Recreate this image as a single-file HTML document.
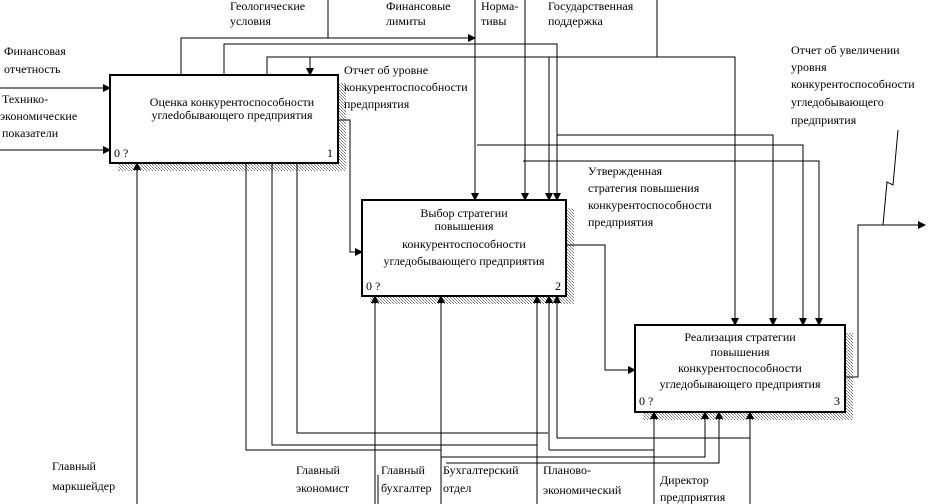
<!DOCTYPE html>
<html><head><meta charset="utf-8"><style>
html,body{margin:0;padding:0;background:#fff;}
svg{display:block;}
text{font-family:"Liberation Serif",serif;font-size:12px;fill:#000;}
</style></head><body>
<svg width="938" height="504" viewBox="0 0 938 504" xmlns="http://www.w3.org/2000/svg">
<defs>
<pattern id="h" width="3" height="3" patternUnits="userSpaceOnUse">
<rect width="3" height="3" fill="#fff"/><rect width="1" height="1" fill="#777"/><rect x="1" y="1" width="1" height="1" fill="#999"/><rect x="2" y="2" width="1" height="1" fill="#777"/>
</pattern>
<marker id="a" markerWidth="8" markerHeight="8" refX="7" refY="4" orient="auto" markerUnits="userSpaceOnUse">
<path d="M0,0 L8,4 L0,8 z" fill="#000"/></marker>
</defs>
<!-- shadows -->
<rect x="118" y="83" width="228" height="88" fill="url(#h)"/>
<rect x="370" y="208" width="204" height="96" fill="url(#h)"/>
<rect x="643" y="333" width="210" height="87" fill="url(#h)"/>
<!-- boxes -->
<rect x="110" y="75" width="228" height="88" fill="#fff" stroke="#000" stroke-width="2"/>
<rect x="362" y="200" width="204" height="96" fill="#fff" stroke="#000" stroke-width="2"/>
<rect x="635" y="325" width="210" height="87" fill="#fff" stroke="#000" stroke-width="2"/>
<g fill="none" stroke="#000" stroke-width="1">
<!-- inputs -->
<path d="M0,88 H110" marker-end="url(#a)"/>
<path d="M0,150 H110" marker-end="url(#a)"/>
<path d="M338,120 H350 V252 H362" marker-end="url(#a)"/>
<path d="M566,245 H605 V370 H635" marker-end="url(#a)"/>
<path d="M845,377 H858 V225 H925" marker-end="url(#a)"/>
<path d="M898,130 L893,185 L887,182 L883,225"/>
<!-- controls -->
<path d="M328,0 V38"/>
<path d="M181,75 V38 H475" marker-end="url(#a)"/>
<path d="M475,0 V200" marker-end="url(#a)"/>
<path d="M224,75 V44 H557 V200" marker-end="url(#a)"/>
<path d="M525,0 V200" marker-end="url(#a)"/>
<path d="M267,75 V57 H735 V325" marker-end="url(#a)"/>
<path d="M310,75 V57"/>
<path d="M310,57 V75" marker-end="url(#a)"/>
<path d="M657,0 V57"/>
<path d="M549,57 V200" marker-end="url(#a)"/>
<path d="M557,135 H773 V325" marker-end="url(#a)"/>
<path d="M477,145 H803 V325" marker-end="url(#a)"/>
<path d="M523,161 H819 V325" marker-end="url(#a)"/>
<!-- mechanisms -->
<path d="M137,504 V163" marker-end="url(#a)"/>
<path d="M246,163 V450 H441"/>
<path d="M272,163 V445 H537"/>
<path d="M297,163 V433 H548"/>
<path d="M441,504 V296" marker-end="url(#a)"/>
<path d="M375,504 V296" marker-end="url(#a)"/>
<path d="M537,504 V296" marker-end="url(#a)"/>
<path d="M549,450 V296" marker-end="url(#a)"/>
<path d="M549,450 H654"/>
<path d="M557,438 V296" marker-end="url(#a)"/>
<path d="M557,438 H750"/>
<path d="M654,504 V412" marker-end="url(#a)"/>
<path d="M750,504 V412" marker-end="url(#a)"/>
<path d="M441,457 H705 V412" marker-end="url(#a)"/>
<path d="M446,463 H719 V412" marker-end="url(#a)"/>
</g>
<g stroke="#000" stroke-width="1" fill="none"><path d="M378,504 V475"/></g>
<!-- box text -->
<text x="232" y="106" text-anchor="middle">Оценка конкурентоспособности</text>
<text x="232" y="119" text-anchor="middle">углedобывающего предприятия</text>
<text x="114" y="157">0 ?</text><text x="327" y="157">1</text>
<text x="464" y="217" text-anchor="middle">Выбор стратегии</text>
<text x="464" y="230" text-anchor="middle">повышения</text>
<text x="464" y="248" text-anchor="middle">конкурентоспособности</text>
<text x="464" y="265" text-anchor="middle">угледобывающего предприятия</text>
<text x="366" y="290">0 ?</text><text x="555" y="290">2</text>
<text x="740" y="341" text-anchor="middle">Реализация стратегии</text>
<text x="740" y="356" text-anchor="middle">повышения</text>
<text x="740" y="372" text-anchor="middle">конкурентоспособности</text>
<text x="740" y="388" text-anchor="middle">угледобывающего предприятия</text>
<text x="639" y="405">0 ?</text><text x="834" y="405">3</text>
<!-- labels -->
<text x="230" y="10">Геологические</text><text x="230" y="25">условия</text>
<text x="386" y="10">Финансовые</text><text x="386" y="25">лимиты</text>
<text x="481" y="10">Норма-</text><text x="481" y="25">тивы</text>
<text x="548" y="10">Государственная</text><text x="548" y="25">поддержка</text>
<text x="4" y="55">Финансовая</text><text x="4" y="73">отчетность</text>
<text x="2" y="103">Технико-</text><text x="0" y="120">экономические</text><text x="2" y="137">показатели</text>
<text x="344" y="74">Отчет об уровне</text><text x="344" y="91">конкурентоспособности</text><text x="344" y="108">предприятия</text>
<text x="588" y="175">Утвержденная</text><text x="588" y="192">стратегия повышения</text><text x="588" y="209">конкурентоспособности</text><text x="588" y="226">предприятия</text>
<text x="791" y="54">Отчет об увеличении</text><text x="791" y="71">уровня</text><text x="791" y="88">конкурентоспособности</text><text x="791" y="106">угледобывающего</text><text x="791" y="124">предприятия</text>
<text x="52" y="470">Главный</text><text x="52" y="490">маркшейдер</text>
<text x="296" y="474">Главный</text><text x="296" y="492">экономист</text>
<text x="381" y="474">Главный</text><text x="381" y="492">бухгалтер</text>
<text x="443" y="474">Бухгалтерский</text><text x="443" y="492">отдел</text>
<text x="543" y="474">Планово-</text><text x="543" y="494">экономический</text>
<text x="660" y="484">Директор</text><text x="660" y="501">предприятия</text>
</svg>
</body></html>
